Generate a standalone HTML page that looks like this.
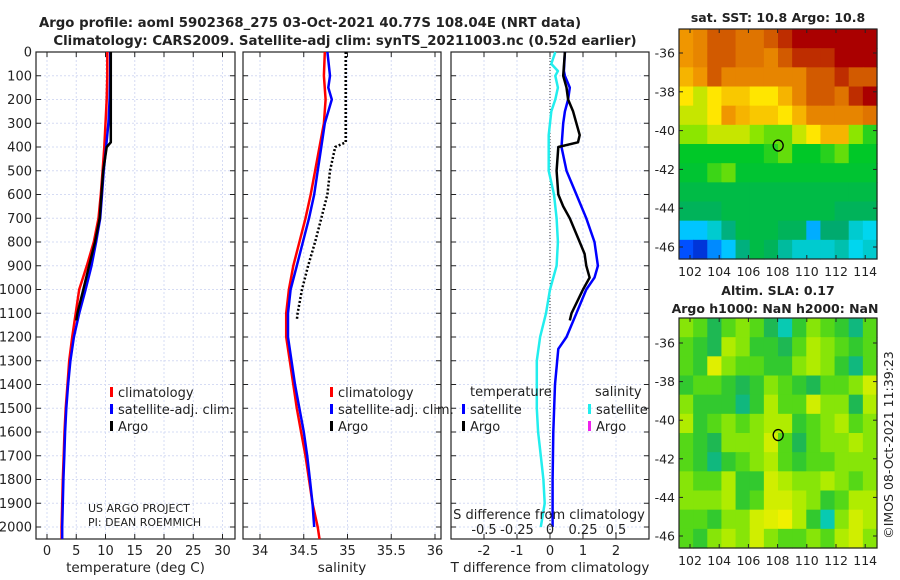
<!DOCTYPE html>
<html><head><meta charset="utf-8"><style>
html,body{margin:0;padding:0;background:#fff;width:900px;height:580px;overflow:hidden}
svg{display:block;font-family:"DejaVu Sans","Liberation Sans",sans-serif}
</style></head><body>
<svg id="fig" width="900" height="580" viewBox="0 0 900 580"></svg>
<script>
// ---------- data ----------
const depths = [0,100,200,300,400,500,600,700,800,900,1000,1100,1200,1300,1400,1500,1600,1700,1800,1900,2000,2050];
const climT  = [10.3,10.3,10.2,10.0,9.8,9.5,9.2,8.8,8.0,6.8,5.5,4.9,4.3,3.8,3.5,3.2,3.0,2.85,2.7,2.6,2.5,2.5];
const satT   = [10.8,10.8,10.7,10.5,10.1,9.7,9.4,9.1,8.4,7.6,6.6,5.5,4.6,4.0,3.6,3.3,3.1,2.95,2.8,2.7,2.6,2.6];
const argoDepths = [0,100,200,300,380,400,500,600,700,800,900,1000,1100,1130];
const argoT  = [10.9,10.9,10.9,10.9,10.9,10.2,9.6,9.3,9.0,8.2,7.2,6.2,5.2,5.0];
const climS  = [34.74,34.73,34.75,34.73,34.68,34.63,34.58,34.52,34.45,34.38,34.33,34.3,34.3,34.34,34.38,34.42,34.47,34.52,34.56,34.6,34.66,34.68];
const satSDepths = [0,100,150,200,300,400,500,600,700,800,900,1000,1100,1200,1300,1400,1500,1600,1700,1800,1900,2000];
const satS   = [34.77,34.8,34.78,34.82,34.74,34.7,34.66,34.62,34.56,34.49,34.42,34.35,34.32,34.32,34.36,34.4,34.45,34.5,34.54,34.57,34.6,34.62];
const argoS  = [34.98,34.98,34.98,34.98,34.98,34.86,34.8,34.77,34.7,34.63,34.55,34.48,34.43,34.42];
const dTsatDepths = [0,80,100,150,200,250,300,400,500,600,700,800,900,950,1000,1100,1200,1250,1400,1600,1800,2000];
const dTsat  = [0.45,0.42,0.45,0.6,0.55,0.45,0.4,0.35,0.5,0.8,1.1,1.35,1.45,1.35,1.1,0.8,0.5,0.25,0.15,0.1,0.08,0.08];
const dTargoDepths = [0,100,150,200,250,350,380,400,500,600,650,700,800,850,900,950,1000,1100,1130];
const dTargo = [0.45,0.4,0.5,0.55,0.7,0.9,0.85,0.25,0.2,0.25,0.4,0.6,0.9,1.05,1.1,1.2,1.0,0.65,0.6];
const dSsatDepths = [0,50,80,100,150,200,250,350,500,600,700,800,900,1000,1100,1200,1300,1500,1600,1700,1800,1900,2000];
const dSsat  = [0.04,0.01,0.06,0.04,0.06,0.04,0.01,-0.01,-0.01,0.03,0.05,0.06,0.05,0.0,-0.03,-0.075,-0.1,-0.1,-0.09,-0.07,-0.05,-0.04,-0.07];
const depthTicks = [0,100,200,300,400,500,600,700,800,900,1000,1100,1200,1300,1400,1500,1600,1700,1800,1900,2000];
const tTicks = [0,5,10,15,20,25,30];
const sTicks = [34,34.5,35,35.5,36];
const sTickLabels = ['34','34.5','35','35.5','36'];
const dTTicks = [-2,-1,0,1,2];
const dSTicks = [-0.5,-0.25,0,0.25,0.5];
const dSTickLabels = ['-0.5','-0.25','0','0.25','0.5'];
const mapLonTicks = [102,104,106,108,110,112,114];
const mapLatTicks = [-36,-38,-40,-42,-44,-46];
// SST grid (deg C), rows north->south, cols west->east
const sstGrid = [
[12.8,13,13.5,13.5,13.2,13.2,13.5,14,14.5,14.5,14.5,14.5,14.5,14.5],
[12.8,13,13.5,13.5,13.2,13.2,13,13.5,14,14,14,14.5,14.5,14.5],
[12.5,12.8,13.5,13,13,13,13,13,13,13.5,13.5,14,13.5,13.5],
[12,11.5,12,12.3,12.3,12,12,12.5,13,13.5,13.5,13.2,14,14.5],
[11.5,11.5,12,12.8,12.5,12.3,12.3,12,12.5,13,13,13,13,13.2],
[11,11,11.5,11.5,11.5,11,10.8,10.8,11.5,12,12.5,12.5,11,10.5],
[10.3,10.3,10.3,10.3,10.3,10.3,10.5,10.8,10.3,10.3,10.5,10.8,10.3,10.3],
[10.2,10.2,10.6,10.8,10.2,10.2,10.2,10.2,10.2,10.2,10.2,10.2,10.2,10.2],
[10,10,10,10,10,10,10,10,10,10,10,10,10,10],
[9.8,9.8,9.8,10,10,10,10,10,10,10,10,9.8,9.8,9.8],
[8.5,8.5,9,9.5,10,10,10,9.8,9.8,8.3,9.6,9.6,9,8.8],
[7.5,7,8,8.5,9.5,10,9.8,9.3,9,9,9,9.2,8.8,9]];
// SLA grid (normalized 0..1)
const slaGrid = [
[.6,.5,.3,.5,.6,.5,.3,.1,.4,.6,.5,.4,.2,.5],
[.5,.4,.3,.7,.6,.4,.4,.3,.5,.7,.6,.5,.4,.5],
[.5,.4,.85,.6,.5,.5,.4,.4,.6,.7,.6,.4,.2,.5],
[.4,.5,.5,.4,.3,.4,.6,.5,.4,.3,.5,.5,.6,.8],
[.6,.4,.4,.4,.2,.4,.7,.5,.5,.8,.6,.6,.3,.7],
[.7,.4,.5,.6,.5,.6,.7,.7,.4,.5,.6,.7,.5,.6],
[.5,.4,.3,.6,.6,.6,.8,.5,.3,.5,.6,.6,.7,.6],
[.5,.4,.2,.4,.5,.6,.7,.5,.4,.5,.5,.6,.6,.6],
[.6,.5,.5,.7,.4,.4,.8,.7,.6,.6,.7,.6,.5,.6],
[.6,.6,.6,.7,.4,.5,.8,.8,.7,.6,.4,.5,.7,.7],
[.5,.5,.4,.6,.6,.8,.85,.9,.7,.4,.1,.6,.8,.7],
[.5,.4,.6,.7,.6,.8,.6,.5,.5,.6,.5,.7,.8,.6]];
const floatLon = 108.04, floatLat = -40.77;

// ---------- helpers ----------
const NS='http://www.w3.org/2000/svg';
const svg=document.getElementById('fig');
function mk(tag,attrs,parent){const e=document.createElementNS(NS,tag);for(const k in attrs)e.setAttribute(k,attrs[k]);(parent||svg).appendChild(e);return e;}
function txt(s,x,y,size,anchor,weight,parent){const t=mk('text',{x:x,y:y,'font-size':size,'text-anchor':anchor||'middle','font-weight':weight||'normal',fill:'#222'},parent);t.textContent=s;return t;}
const Y0=52, PY=0.2375;
const yD=d=>Y0+d*PY;
const TOP=52, BOT=539;

function panel(name,x0,x1,xs,xticks,xlabels,xlabel,showY){
  const g=mk('g',{});
  
  
  xticks.forEach(v=>{mk('line',{x1:xs(v),x2:xs(v),y1:TOP,y2:BOT,stroke:'#d6dcf4','stroke-width':1,'stroke-dasharray':'2,2'},g);});
  depthTicks.forEach(d=>{mk('line',{x1:x0,x2:x1,y1:yD(d),y2:yD(d),stroke:'#d6dcf4','stroke-width':1,'stroke-dasharray':'2,2'},g);
    mk('line',{x1:x0,x2:x0+5,y1:yD(d),y2:yD(d),stroke:'#222'},g);mk('line',{x1:x1-5,x2:x1,y1:yD(d),y2:yD(d),stroke:'#222'},g);
    if(showY){const t=txt(String(d),x0-4,yD(d)+4.5,13,'end','normal',g);}
  });
  xticks.forEach((v,i)=>{mk('line',{x1:xs(v),x2:xs(v),y1:BOT-5,y2:BOT,stroke:'#222'},g);mk('line',{x1:xs(v),x2:xs(v),y1:TOP,y2:TOP+5,stroke:'#222'},g);
    if(xlabels){const t=txt(xlabels[i],xs(v),555,13,'middle','normal',g);}});
  const f=mk('rect',{x:x0,y:TOP,width:x1-x0,height:BOT-TOP,fill:'none',stroke:'#222','stroke-width':1.2},g);
  
  const xl=txt(xlabel,(x0+x1)/2,572,13.5,'middle','normal',g);
  
  return g;
}
function line(g,name,xs,vals,ds,color,w,dash){
  const pts=vals.map((v,i)=>xs(v).toFixed(1)+','+yD(ds[i]).toFixed(1)).join(' ');
  const p=mk('polyline',{points:pts,fill:'none',stroke:color,'stroke-width':w,'stroke-linejoin':'round'},g);
  if(dash)p.setAttribute('stroke-dasharray',dash);
  
}
function legend(g,name,x,y,color,label){
  const r=mk('rect',{x:x,y:y-9,width:3,height:10,fill:color},g);
  
  const t=txt(label,x+8,y+1,13,'start','normal',g);
  
}

let t1=txt('Argo profile: aoml 5902368_275 03-Oct-2021 40.77S 108.04E (NRT data)',310,27,13.3,'middle','bold');

let t2=txt('Climatology: CARS2009. Satellite-adj clim: synTS_20211003.nc (0.52d earlier)',345,45,13.3,'middle','bold');


const xT=v=>47+v*5.85;
const g1=panel('temperature-panel',36,235,xT,tTicks,tTicks.map(String),'temperature (deg C)',true);
line(g1,'temperature-climatology-line',xT,climT,depths,'#f00',2.5);
line(g1,'temperature-satellite-line',xT,satT,depths,'#00f',2.5);
line(g1,'temperature-argo-line',xT,argoT,argoDepths,'#000',2.5);
legend(g1,'legend-climatology',110,396,'#f00','climatology');
legend(g1,'legend-satellite-adj',110,413,'#00f','satellite-adj. clim.');
legend(g1,'legend-argo',110,430,'#000','Argo');
let c1=txt('US ARGO PROJECT',88,512,11,'start','normal',g1);
let c2=txt('PI: DEAN ROEMMICH',88,526,11,'start','normal',g1);

const xS=v=>260+(v-34)*87.5;
const g2=panel('salinity-panel',243,441,xS,sTicks,sTickLabels,'salinity',false);
line(g2,'salinity-climatology-line',xS,climS,depths,'#f00',2.5);
line(g2,'salinity-satellite-line',xS,satS,satSDepths,'#00f',2.5);
line(g2,'salinity-argo-line',xS,argoS,argoDepths,'#000',2.5,'2,2');
legend(g2,'legend-climatology-s',330,396,'#f00','climatology');
legend(g2,'legend-satellite-adj-s',330,413,'#00f','satellite-adj. clim.');
legend(g2,'legend-argo-s',330,430,'#000','Argo');

const xD=v=>550+v*33;
const xDS=v=>550+v*132;
const g3=panel('difference-panel',451,649,xD,dTTicks,dTTicks.map(String),'T difference from climatology',false);
mk('line',{x1:xD(0),x2:xD(0),y1:TOP,y2:BOT,stroke:'#333','stroke-width':1,'stroke-dasharray':'1,2'},g3);
line(g3,'salinity-diff-satellite-line',xDS,dSsat,dSsatDepths,'#22eeee',2.5);
line(g3,'temperature-diff-satellite-line',xD,dTsat,dTsatDepths,'#00f',2.5);
line(g3,'temperature-diff-argo-line',xD,dTargo,dTargoDepths,'#000',2.5);
let lt=txt('temperature',470,396,13,'start','normal',g3);
let ls=txt('salinity',595,396,13,'start','normal',g3);
legend(g3,'legend-t-satellite',462,413,'#00f','satellite');
legend(g3,'legend-t-argo',462,430,'#000','Argo');
legend(g3,'legend-s-satellite',588,413,'#22eeee','satellite');
legend(g3,'legend-s-argo',588,430,'#ee22ee','Argo');
let sd=txt('S difference from climatology',549,519,13,'middle','normal',g3);
dSTicks.forEach((v,i)=>{const t=txt(dSTickLabels[i],xDS(v),534,13,'middle','normal',g3);});

function sstColor(v){
  const stops=[[6,[0,0,140]],[7.5,[0,80,255]],[8.7,[0,220,255]],[9.6,[0,170,110]],[10.3,[0,200,40]],[11,[140,230,0]],[12,[255,230,0]],[12.8,[240,150,0]],[13.5,[210,90,0]],[14.5,[170,0,0]]];
  return interp(stops,v);
}
function slaColor(v){
  const stops=[[0,[0,220,230]],[0.25,[20,175,100]],[0.45,[60,210,30]],[0.65,[160,235,0]],[0.9,[240,240,0]],[1,[255,220,0]]];
  return interp(stops,v);
}
function interp(stops,v){
  if(v<=stops[0][0])return 'rgb('+stops[0][1]+')';
  for(let i=1;i<stops.length;i++){if(v<=stops[i][0]){const a=stops[i-1],b=stops[i],f=(v-a[0])/(b[0]-a[0]);
    return 'rgb('+a[1].map((c,k)=>Math.round(c+(b[1][k]-c)*f)).join(',')+')';}}
  return 'rgb('+stops[stops.length-1][1]+')';
}
function drawMap(name,grid,colorFn,x0,x1,y0,y1,latAt,title1,title2,t1y,t2y){
  const g=mk('g',{});
  
  const lonX=l=>690+(l-102)*14.6;
  const latY=latAt;
  const nr=grid.length,nc=grid[0].length,cw=(x1-x0)/nc,ch=(y1-y0)/nr;
  grid.forEach((row,r)=>row.forEach((v,c)=>{
    const cell=mk('rect',{x:(x0+c*cw).toFixed(2),y:(y0+r*ch).toFixed(2),width:(cw+0.6).toFixed(2),height:(ch+0.6).toFixed(2),fill:colorFn(v)},g);
    
  }));
  mk('rect',{x:x0,y:y0,width:x1-x0,height:y1-y0,fill:'none',stroke:'#222','stroke-width':1.2},g);
  mapLonTicks.forEach(l=>{mk('line',{x1:lonX(l),x2:lonX(l),y1:y1,y2:y1-4,stroke:'#222'},g);mk('line',{x1:lonX(l),x2:lonX(l),y1:y0,y2:y0+4,stroke:'#222'},g);
    const t=txt(String(l),lonX(l),y1+17,12.5,'middle','normal',g);});
  mapLatTicks.forEach(l=>{mk('line',{x1:x0,x2:x0+4,y1:latY(l),y2:latY(l),stroke:'#222'},g);mk('line',{x1:x1-4,x2:x1,y1:latY(l),y2:latY(l),stroke:'#222'},g);
    const t=txt(String(l),x0-4,latY(l)+4.5,12.5,'end','normal',g);});
  const m=mk('ellipse',{cx:lonX(floatLon),cy:latY(floatLat),rx:5,ry:5.5,fill:'none',stroke:'#000','stroke-width':1.3},g);
  
  const a=txt(title1,(x0+x1)/2,t1y,12.5,'middle','bold',g);
  if(title2){const b=txt(title2,(x0+x1)/2-3,t2y,12.5,'middle','bold',g);}
}
drawMap('sst-map',sstGrid,sstColor,679,877,29,259,l=>53+(-36-l)*19.4,'sat. SST: 10.8 Argo: 10.8',null,22,0);
drawMap('sla-map',slaGrid,slaColor,679,877,318,548,l=>343+(-36-l)*19.3,'Altim. SLA: 0.17','Argo h1000: NaN h2000: NaN',295,313);
const im=txt('©IMOS 08-Oct-2021 11:39:23',0,0,12.5,'middle','normal');
im.setAttribute('transform','translate(893,445) rotate(-90)');

</script>
</body></html>
